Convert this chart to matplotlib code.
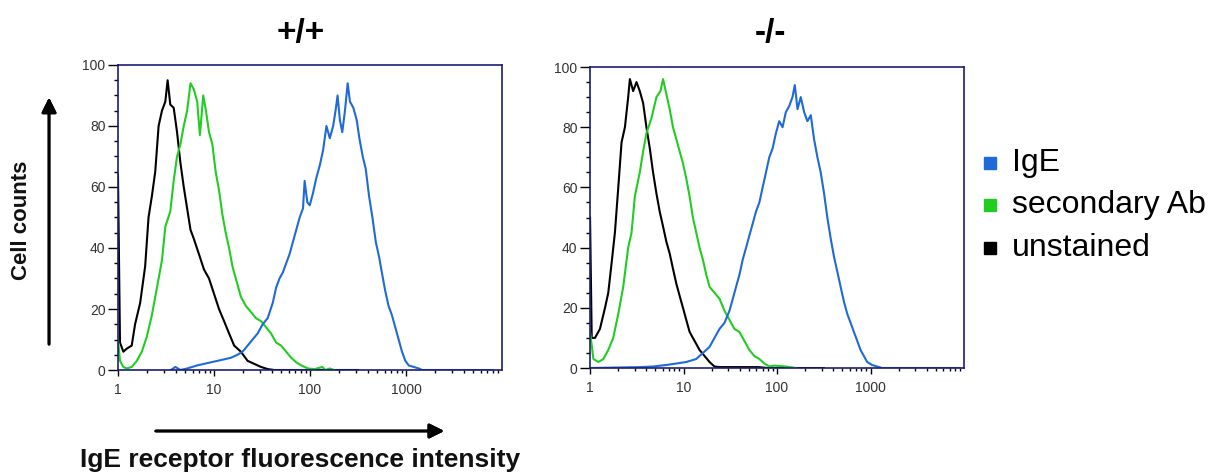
import numpy as np
import matplotlib
matplotlib.use('Agg')
import matplotlib.pyplot as plt
from matplotlib.lines import Line2D

plt.rcParams['font.family'] = ['Liberation Sans', 'DejaVu Sans']

# fluorescence positions are read as log10(intensity), counts as % of max
# +/+ panel
wt_black_log = [0.0, 0.021, 0.056, 0.091, 0.143, 0.178, 0.231, 0.283, 0.318, 0.353,
                0.388, 0.423, 0.458, 0.493, 0.517, 0.545, 0.580, 0.615, 0.650, 0.685,
                0.720, 0.755, 0.790, 0.843, 0.895, 0.948, 1.000, 1.052, 1.105, 1.157,
                1.210, 1.280, 1.350, 1.420, 1.490, 1.559, 1.629, 2.5]
wt_black_cnt = [64, 9, 6, 7, 8, 15, 22, 34, 50, 57,
                65, 80, 85, 88, 95, 87, 86, 78, 68, 60,
                53, 46, 43, 38, 33, 30, 25, 20, 16, 12,
                8, 6, 3, 2, 1, 0.3, 0, 0]

wt_green_log = [0.0, 0.021, 0.056, 0.091, 0.143, 0.196, 0.248, 0.301, 0.353, 0.406,
                0.458, 0.493, 0.545, 0.580, 0.615, 0.650, 0.685, 0.720, 0.755, 0.790,
                0.825, 0.853, 0.888, 0.916, 0.948, 0.983, 1.017, 1.052, 1.087, 1.122,
                1.157, 1.192, 1.227, 1.280, 1.332, 1.385, 1.437, 1.490, 1.542, 1.594,
                1.647, 1.699, 1.752, 1.804, 1.857, 1.909, 1.979, 2.049, 2.129, 2.157,
                2.206, 2.250]
wt_green_cnt = [10, 3, 1, 0.5, 1, 3, 6, 11, 18, 27,
                36, 47, 52, 62, 70, 74, 80, 85, 94, 92,
                88, 77, 90, 85, 78, 74, 65, 59, 51, 45,
                40, 34, 30, 24, 21, 19, 17, 16, 14, 12,
                9, 8, 6, 4, 2.5, 1.5, 0.5, 0.3, 1, 0,
                0.5, 0]

wt_blue_log = [0.55, 0.598, 0.650, 0.720, 0.825, 0.895, 0.965, 1.035, 1.105, 1.175,
               1.245, 1.297, 1.350, 1.402, 1.455, 1.507, 1.559, 1.612, 1.647, 1.682,
               1.717, 1.752, 1.787, 1.822, 1.857, 1.892, 1.927, 1.944, 1.972, 1.997,
               2.031, 2.066, 2.101, 2.136, 2.171, 2.206, 2.241, 2.266, 2.287, 2.311,
               2.336, 2.364, 2.392, 2.416, 2.451, 2.486, 2.514, 2.549, 2.580, 2.615,
               2.650, 2.685, 2.720, 2.748, 2.783, 2.818, 2.853, 2.888, 2.923, 2.958,
               2.993, 3.028, 3.080, 3.133, 3.168, 3.9]
wt_blue_cnt = [0, 1, 0, 0.5, 1.5, 2, 2.5, 3, 3.5, 4,
               5, 6, 8, 10, 12, 15, 17, 22, 27, 30,
               32, 35, 38, 42, 46, 50, 53, 62, 55, 54,
               58, 63, 67, 72, 80, 76, 80, 85, 90, 82,
               78, 85, 94, 88, 86, 82, 76, 70, 66, 57,
               50, 42, 37, 32, 26, 21, 18, 14, 10, 6,
               3, 1.5, 1, 0.5, 0, 0]

# -/- panel
ko_black_log = [0.0, 0.018, 0.053, 0.106, 0.160, 0.195, 0.231, 0.266, 0.302, 0.337,
                0.373, 0.408, 0.426, 0.461, 0.497, 0.532, 0.568, 0.603, 0.639, 0.674,
                0.710, 0.745, 0.781, 0.816, 0.852, 0.887, 0.923, 0.958, 0.994, 1.029,
                1.065, 1.100, 1.136, 1.171, 1.225, 1.278, 1.331, 1.385, 1.500, 1.800,
                1.900, 2.5]
ko_black_cnt = [50, 10, 10, 13, 20, 25, 35, 45, 60, 75,
                80, 90, 96, 92, 95, 92, 88, 80, 73, 65,
                58, 52, 47, 42, 38, 33, 28, 24, 20, 16,
                12, 10, 8, 6, 4, 2, 0.5, 0.3, 0.3, 0.3,
                0, 0]

ko_green_log = [0.0, 0.036, 0.089, 0.142, 0.195, 0.248, 0.302, 0.355, 0.408, 0.444,
                0.479, 0.532, 0.568, 0.603, 0.657, 0.710, 0.753, 0.781, 0.816, 0.852,
                0.887, 0.923, 0.958, 0.994, 1.029, 1.065, 1.100, 1.136, 1.171, 1.207,
                1.243, 1.278, 1.331, 1.385, 1.438, 1.491, 1.544, 1.598, 1.651, 1.704,
                1.757, 1.811, 1.864, 1.917, 1.970, 2.094, 2.200]
ko_green_cnt = [12, 3, 2, 3, 6, 10, 18, 27, 40, 45,
                57, 65, 72, 78, 83, 90, 92, 96, 91, 86,
                80, 76, 72, 68, 63, 57, 50, 45, 40, 36,
                31, 27, 25, 23, 19, 16, 13, 12, 9, 6,
                4, 3, 1.5, 0.5, 0.8, 0.5, 0]

ko_blue_log = [0.0, 0.530, 0.674, 0.816, 0.923, 1.029, 1.136, 1.207, 1.278, 1.331,
               1.385, 1.438, 1.491, 1.527, 1.562, 1.598, 1.633, 1.669, 1.704, 1.740,
               1.775, 1.811, 1.846, 1.882, 1.917, 1.953, 1.988, 2.023, 2.059, 2.094,
               2.130, 2.165, 2.190, 2.219, 2.254, 2.290, 2.325, 2.361, 2.396, 2.432,
               2.467, 2.503, 2.538, 2.574, 2.609, 2.645, 2.680, 2.716, 2.751, 2.787,
               2.822, 2.858, 2.893, 2.929, 2.964, 3.017, 3.070, 3.124, 3.95]
ko_blue_cnt = [0, 0.3, 0.5, 1, 1.5, 2, 3, 5, 7, 10,
               13, 15, 19, 23, 27, 31, 36, 40, 44, 48,
               52, 55, 60, 65, 70, 73, 78, 82, 80, 85,
               87, 90, 94, 86, 90, 85, 82, 84, 76, 70,
               65, 58, 50, 43, 37, 32, 27, 22, 18, 15,
               12, 9, 6, 4, 2, 1, 0.5, 0, 0]

titles = ['+/+', '-/-']
legend_labels = ['IgE', 'secondary Ab', 'unstained']
c_blue = '#1f6ad8'
c_green = '#22cc22'
c_black = '#000000'
frame_col = '#1c1c78'

fig = plt.figure(figsize=(12.29, 4.74), dpi=100)
ax1 = fig.add_axes([0.0960, 0.2194, 0.3125, 0.6435])
ax2 = fig.add_axes([0.4801, 0.2236, 0.3043, 0.6350])

panels = [
    (ax1, [(wt_black_log, wt_black_cnt, c_black),
           (wt_green_log, wt_green_cnt, c_green),
           (wt_blue_log, wt_blue_cnt, c_blue)]),
    (ax2, [(ko_black_log, ko_black_cnt, c_black),
           (ko_green_log, ko_green_cnt, c_green),
           (ko_blue_log, ko_blue_cnt, c_blue)]),
]

for ax, curves in panels:
    for lg, cnt, col in curves:
        ax.plot(10 ** np.array(lg), cnt, color=col, lw=1.5)
    ax.set_xscale('log')
    ax.set_xlim(1, 10000)
    ax.set_ylim(0, 100)
    ax.set_xticks([1, 10, 100, 1000])
    ax.set_xticklabels(['1', '10', '100', '1000'])
    ax.set_yticks([0, 20, 40, 60, 80, 100])
    ax.set_yticks(np.arange(0, 101, 5), minor=True)
    for s in ax.spines.values():
        s.set_color(frame_col)
        s.set_linewidth(1.2)
    ax.tick_params(axis='y', which='major', direction='out', length=7,
                   width=1, color='black', labelsize=10, labelcolor='#333333', pad=2)
    ax.tick_params(axis='y', which='minor', direction='out', length=3,
                   width=1, color='black')
    ax.tick_params(axis='x', which='major', direction='out', length=4,
                   width=1, color='black', labelsize=10, labelcolor='#333333', pad=5)
    ax.tick_params(axis='x', which='minor', direction='out', length=2.5,
                   width=1, color='black')

fig.text(0.245, 0.930, titles[0], fontsize=24, fontweight='bold',
         ha='center', va='center')
fig.text(0.627, 0.930, titles[1], fontsize=24, fontweight='bold',
         ha='center', va='center')

# axis captions with arrows
fig.text(0.0179, 0.536, 'Cell counts', rotation=90, fontsize=16,
         fontweight='bold', ha='center', va='center', color='#111111')
fig.text(0.244, 0.0295, 'IgE receptor fluorescence intensity', fontsize=19,
         fontweight='bold', ha='center', va='center', color='#111111')
fig.add_artist(plt.annotate('', xy=(0.0399, 0.800), xytext=(0.0399, 0.268),
                            xycoords='figure fraction',
                            arrowprops=dict(arrowstyle='-|>', color='black', lw=2,
                                            mutation_scale=22)))
fig.add_artist(plt.annotate('', xy=(0.3637, 0.0907), xytext=(0.1245, 0.0907),
                            xycoords='figure fraction',
                            arrowprops=dict(arrowstyle='-|>', color='black', lw=2,
                                            mutation_scale=22)))

# legend
leg_cols = [c_blue, c_green, c_black]
leg_y = [1 - 163 / 474, 1 - 205 / 474, 1 - 248 / 474]
for lab, col, y in zip(legend_labels, leg_cols, leg_y):
    fig.add_artist(Line2D([0.8055], [y], marker='s', markersize=9, color=col,
                          transform=fig.transFigure, linestyle='none'))
    fig.text(0.8235, y, lab, fontsize=23, ha='left', va='center')

fig.savefig('out.png', dpi=100)
